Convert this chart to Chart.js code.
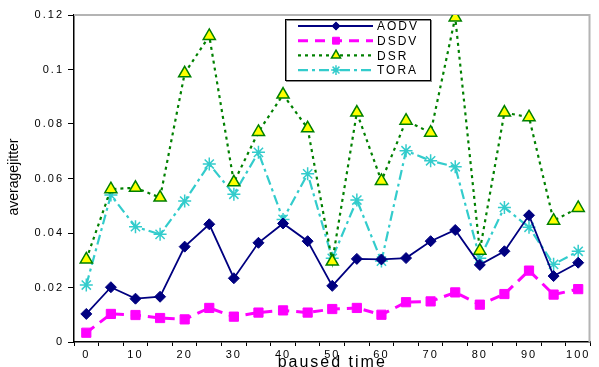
<!DOCTYPE html>
<html>
<head>
<meta charset="utf-8">
<script src="https://cdn.jsdelivr.net/npm/chart.js@4.4.1/dist/chart.umd.min.js"></script>
<style>
  html, body { margin: 0; padding: 0; background: #fff; }
  #wrap { width: 599px; height: 367px; }
</style>
</head>
<body>
<div id="wrap"><canvas id="jitterChart" width="599" height="367"></canvas></div>
<script>
// paused time categories
const pausedTime = [0, 5, 10, 15, 20, 25, 30, 35, 40, 45, 50, 55, 60, 65, 70, 75, 80, 85, 90, 95, 100];

const aodv = [0.0103, 0.0201, 0.0159, 0.0166, 0.0350, 0.0432, 0.0234, 0.0364, 0.0435, 0.0370, 0.0206,
              0.0305, 0.0303, 0.0308, 0.0370, 0.0411, 0.0283, 0.0333, 0.0465, 0.0242, 0.0291];
const dsdv = [0.0034, 0.0103, 0.0099, 0.0088, 0.0083, 0.0125, 0.0093, 0.0108, 0.0116, 0.0108, 0.0121,
              0.0125, 0.0100, 0.0146, 0.0149, 0.0182, 0.0137, 0.0176, 0.0262, 0.0174, 0.0194];
const dsr  = [0.0303, 0.0561, 0.0566, 0.0530, 0.0986, 0.1123, 0.0586, 0.0771, 0.0908, 0.0784, 0.0295,
              0.0842, 0.0591, 0.0812, 0.0768, 0.1191, 0.0335, 0.0842, 0.0825, 0.0445, 0.0492];
const tora = [0.0209, 0.0539, 0.0423, 0.0395, 0.0517, 0.0653, 0.0542, 0.0696, 0.0450, 0.0617, 0.0307,
              0.0521, 0.0297, 0.0702, 0.0665, 0.0643, 0.0307, 0.0494, 0.0421, 0.0285, 0.0333];

const yTicks = [0, 0.02, 0.04, 0.06, 0.08, 0.1, 0.12];
const yTitle = 'averagejitter';

const FONT = "'Liberation Sans', Arial, sans-serif";

// wide Excel-like text spacing for tick labels and x title
const spacing = {
  id: 'spacing',
  beforeDraw(chart) { chart.ctx.letterSpacing = '2px'; }
};

// gray frame on top and right of plot area
const frame = {
  id: 'frame',
  beforeDatasetsDraw(chart) {
    const { ctx, chartArea: a } = chart;
    ctx.save();
    ctx.strokeStyle = '#b4b4b4';
    ctx.lineWidth = 2;
    ctx.beginPath();
    ctx.moveTo(a.left, a.top);
    ctx.lineTo(a.right - 1, a.top);
    ctx.lineTo(a.right - 1, a.bottom);
    ctx.stroke();
    ctx.restore();
  }
};

// condensed rotated y title
const yTitlePlugin = {
  id: 'yTitle',
  afterDraw(chart) {
    const ctx = chart.ctx;
    ctx.save();
    ctx.letterSpacing = '0px';
    ctx.translate(14, 177);
    ctx.rotate(-Math.PI / 2);
    ctx.font = '14px ' + FONT;
    ctx.fillStyle = '#000';
    ctx.textAlign = 'center';
    ctx.textBaseline = 'middle';
    ctx.fillText(yTitle, 0, 0);
    ctx.restore();
  }
};

// boxed legend drawn from dataset styles
const boxLegend = {
  id: 'boxLegend',
  afterDraw(chart) {
    const ctx = chart.ctx;
    const x0 = 285, y0 = 19, w = 145, h = 61;
    ctx.save();
    ctx.fillStyle = '#fff';
    ctx.fillRect(x0, y0, w, h);
    ctx.lineWidth = 1;
    ctx.strokeStyle = '#888';
    ctx.strokeRect(x0 + 1.5, y0 + 1.5, w, h);
    ctx.strokeStyle = '#000';
    ctx.strokeRect(x0 + 0.5, y0 + 0.5, w, h);
    chart.data.datasets.forEach((ds, i) => {
      const y = 26 + i * 14.7;
      ctx.save();
      ctx.strokeStyle = ds.borderColor;
      ctx.lineWidth = ds.borderWidth;
      ctx.setLineDash(ds.borderDash || []);
      ctx.beginPath();
      ctx.moveTo(298, y);
      ctx.lineTo(373, y);
      ctx.stroke();
      ctx.restore();
      ctx.fillStyle = ds.pointBackgroundColor;
      ctx.strokeStyle = ds.pointBorderColor;
      ctx.lineWidth = ds.pointBorderWidth;
      ctx.setLineDash([]);
      Chart.helpers.drawPoint(ctx, {
        pointStyle: ds.pointStyle, radius: ds.pointRadius * 0.75, rotation: 0,
        borderWidth: ds.pointBorderWidth
      }, 336, y);
      ctx.fillStyle = '#000';
      ctx.font = '12px ' + FONT;
      ctx.letterSpacing = '2px';
      ctx.textBaseline = 'middle';
      ctx.fillText(ds.label, 377, y + 1);
    });
    ctx.restore();
  }
};

new Chart(document.getElementById('jitterChart'), {
  type: 'line',
  data: {
    labels: pausedTime,
    datasets: [
      {
        label: 'AODV', data: aodv,
        borderColor: '#000080', borderWidth: 1.8,
        pointStyle: 'rectRot', pointRadius: 5.5,
        pointBackgroundColor: '#000080', pointBorderColor: '#000080', pointBorderWidth: 1
      },
      {
        label: 'DSDV', data: dsdv,
        borderColor: '#ff00ff', borderWidth: 3, borderDash: [10, 7],
        pointStyle: 'rect', pointRadius: 6.5,
        pointBackgroundColor: '#ff00ff', pointBorderColor: '#ff00ff', pointBorderWidth: 1
      },
      {
        label: 'DSR', data: dsr,
        borderColor: '#008000', borderWidth: 2.2, borderDash: [3, 4],
        pointStyle: 'triangle', pointRadius: 7,
        pointBackgroundColor: '#ffff00', pointBorderColor: '#008000', pointBorderWidth: 1.5
      },
      {
        label: 'TORA', data: tora,
        borderColor: '#33cccc', borderWidth: 2.2, borderDash: [10, 4, 3, 4],
        pointStyle: 'star', pointRadius: 6.5,
        pointBackgroundColor: '#33cccc', pointBorderColor: '#33cccc', pointBorderWidth: 1.5
      }
    ]
  },
  options: {
    responsive: false,
    animation: false,
    layout: { padding: { top: 15, right: 0, left: 0, bottom: 0 } },
    elements: { line: { tension: 0, fill: false } },
    plugins: {
      legend: { display: false },
      tooltip: { enabled: false }
    },
    scales: {
      x: {
        offset: true,
        grid: { offset: true, drawOnChartArea: false, color: '#000', tickLength: 4, tickWidth: 1 },
        border: { color: '#000', width: 1.5 },
        ticks: {
          autoSkip: false, maxRotation: 0, padding: 2,
          font: { family: FONT, size: 11 }, color: '#000',
          callback: function (v, i) { return i % 2 === 0 ? String(pausedTime[i]) : ''; }
        },
        title: {
          display: true, text: 'paused time', color: '#000',
          font: { family: FONT, size: 16 }, padding: { top: 0, bottom: -5 }
        },
        afterFit(scale) { scale.height = 25; }
      },
      y: {
        min: 0, max: 0.12,
        afterBuildTicks(scale) { scale.ticks = yTicks.map(v => ({ value: v })); },
        grid: { drawOnChartArea: false, color: '#000', tickLength: 6, tickWidth: 1 },
        border: { color: '#000', width: 1.5 },
        ticks: {
          padding: 4, font: { family: FONT, size: 11 }, color: '#000',
          callback: v => String(Number(v.toFixed(2)))
        },
        afterFit(scale) { scale.width = 74; }
      }
    }
  },
  plugins: [spacing, frame, yTitlePlugin, boxLegend]
});
</script>
</body>
</html>
